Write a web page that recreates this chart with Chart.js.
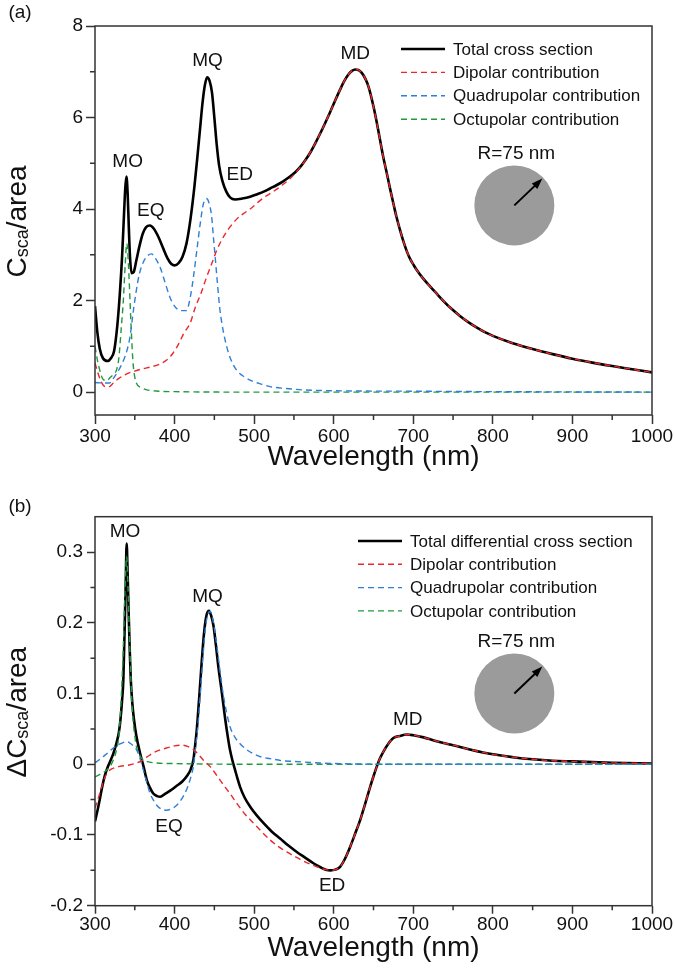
<!DOCTYPE html>
<html>
<head>
<meta charset="utf-8">
<script src="https://cdn.jsdelivr.net/npm/chart.js@4.4.1/dist/chart.umd.min.js"></script>
<style>
  body { margin: 0; background: #fff; }
  #wrap { position: relative; width: 675px; height: 969px; }
  .box { position: absolute; left: 0; width: 675px; }
</style>
</head>
<body>
<div id="wrap">
  <div class="box" style="top:0;height:480px"><canvas id="chartA"></canvas></div>
  <div class="box" style="top:480px;height:489px"><canvas id="chartB"></canvas></div>
</div>
<script>
// ---- shared axis ticks ----
var xTicks = [300, 400, 500, 600, 700, 800, 900, 1000];
var xMinor = [350, 450, 550, 650, 750, 850, 950];

// ---- (a) scattering cross section ----
var aTotalNm = [300, 303, 306, 310, 316, 320, 324, 328, 331, 334, 336.5, 338, 339.5, 341, 342.5, 344, 346, 348.5, 352, 356, 360, 364, 369, 374, 380, 386, 391, 396, 400, 405, 410, 415, 420, 425, 429, 432, 435, 438, 441, 444, 447, 450, 453, 456, 460, 465, 470, 476, 485, 495, 503, 512, 520, 528, 536, 545, 552, 558, 564, 570, 576, 583, 589, 595, 601, 608, 613, 618, 623, 627, 631, 635, 640, 644, 650, 654, 658, 662, 667, 671, 675, 679, 684, 688, 692, 696, 700, 705, 712, 721, 730, 738, 748, 759, 770, 780, 790, 800, 825, 850, 875, 900, 925, 950, 975, 1000];
var aTotal = [1.88, 1.3, 0.95, 0.74, 0.68, 0.74, 0.9, 1.45, 2.1, 2.95, 3.9, 4.45, 4.71, 4.35, 3.6, 2.95, 2.6, 2.62, 2.88, 3.2, 3.46, 3.6, 3.64, 3.57, 3.38, 3.13, 2.93, 2.8, 2.77, 2.82, 2.96, 3.25, 3.78, 4.5, 5.2, 5.75, 6.3, 6.7, 6.88, 6.8, 6.55, 6.0, 5.4, 4.95, 4.62, 4.38, 4.25, 4.21, 4.23, 4.27, 4.32, 4.38, 4.45, 4.52, 4.6, 4.71, 4.81, 4.92, 5.06, 5.22, 5.41, 5.65, 5.87, 6.1, 6.34, 6.61, 6.79, 6.93, 7.02, 7.05, 7.04, 6.98, 6.84, 6.66, 6.24, 5.9, 5.53, 5.16, 4.76, 4.43, 4.12, 3.82, 3.5, 3.27, 3.07, 2.91, 2.79, 2.65, 2.49, 2.31, 2.14, 1.99, 1.82, 1.66, 1.52, 1.41, 1.31, 1.23, 1.07, 0.94, 0.83, 0.73, 0.645, 0.57, 0.5, 0.43];

var aDipoleNm = [300, 304, 308, 313, 318, 323, 330, 340, 350, 360, 370, 380, 390, 398, 405, 412, 419.5, 426, 433, 440, 447, 453, 460, 469.7, 478, 486.5, 495, 503, 512, 524, 535, 545, 552, 558, 564, 570, 576, 583, 589, 595, 601, 608, 613, 618, 623, 627, 631, 635, 640, 644, 650, 654, 658, 662, 667, 671, 675, 679, 684, 688, 692, 696, 700, 705, 712, 721, 730, 738, 748, 759, 770, 780, 790, 800, 825, 850, 875, 900, 925, 950, 975, 1000];
var aDipole = [0.64, 0.4, 0.22, 0.12, 0.12, 0.2, 0.3, 0.4, 0.46, 0.51, 0.55, 0.6, 0.7, 0.85, 1.05, 1.3, 1.5, 1.85, 2.15, 2.5, 2.82, 3.1, 3.35, 3.61, 3.78, 3.9, 4.0, 4.12, 4.25, 4.38, 4.52, 4.66, 4.79, 4.92, 5.06, 5.22, 5.41, 5.65, 5.87, 6.1, 6.34, 6.61, 6.79, 6.93, 7.02, 7.05, 7.04, 6.98, 6.84, 6.66, 6.24, 5.9, 5.53, 5.16, 4.76, 4.43, 4.12, 3.82, 3.5, 3.27, 3.07, 2.91, 2.79, 2.65, 2.49, 2.31, 2.14, 1.99, 1.82, 1.66, 1.52, 1.41, 1.31, 1.23, 1.07, 0.94, 0.83, 0.73, 0.645, 0.57, 0.5, 0.43];

var aQuadNm = [300, 310, 318, 325, 332, 336, 340, 344, 348, 352, 356, 361, 366, 371, 376, 382, 388, 394, 400, 407, 415, 420, 424, 428, 432, 436, 440, 443, 446.5, 449, 451, 454, 457, 461, 465.6, 471, 478, 488, 499, 510, 520, 540, 560, 600, 700, 800, 1000];
var aQuad = [0.21, 0.2, 0.2, 0.35, 0.55, 0.7, 0.9, 1.21, 1.75, 2.23, 2.6, 2.85, 2.98, 3.02, 2.92, 2.72, 2.4, 2.08, 1.88, 1.78, 1.78, 2.1, 2.55, 3.1, 3.65, 4.1, 4.23, 4.15, 3.85, 3.35, 2.96, 2.35, 1.8, 1.35, 0.99, 0.7, 0.48, 0.33, 0.23, 0.17, 0.12, 0.08, 0.05, 0.03, 0.02, 0.01, 0.0];

var aOctNm = [300, 303, 306, 310, 315, 319, 324, 327, 330, 333, 335.6, 338, 340, 342, 344, 346, 348, 352, 358, 365, 380, 400, 500, 1000];
var aOct = [1.0, 0.7, 0.48, 0.28, 0.25, 0.32, 0.4, 0.48, 0.75, 1.4, 2.0, 2.8, 3.25, 2.8, 2.0, 1.2, 0.6, 0.2, 0.1, 0.05, 0.02, 0.01, 0.0, 0.0];

var aYTicks = [0, 2, 4, 6, 8];
var aYMinor = [1, 3, 5, 7];
var aNotes = ['MO', 'EQ', 'MQ', 'ED', 'MD'];
var aNotesNm = [341, 370, 441.5, 482, 627];
var aNotesVal = [5.04, 3.96, 7.23, 4.74, 7.4];
var aLabels = ['Total cross section', 'Dipolar contribution', 'Quadrupolar contribution', 'Octupolar contribution'];

// ---- (b) differential cross section ----
var bTotalNm = [300, 303, 306, 309, 312.6, 316, 319, 323, 327, 330, 332, 334, 335.6, 337, 338.5, 339.8, 341, 342.3, 343.7, 345, 347, 349, 352, 356.6, 361, 365, 369, 373, 378, 382, 388, 395, 402, 410, 416, 420, 423.6, 426, 428, 431, 434, 437, 440, 443.3, 446, 449, 452, 455, 459, 463.5, 467, 469.7, 473, 476, 479, 482.3, 488, 495, 503, 511.6, 522, 532.6, 543, 553.6, 564, 574.5, 584, 590, 596, 602, 608, 614, 620.6, 627, 633.2, 639.5, 645.8, 650, 654.2, 658, 662.5, 668, 675, 683, 692, 700, 713, 725, 738, 750, 771, 800, 825, 850, 875, 900, 950, 1000];
var bTotal = [-0.081, -0.066, -0.05, -0.032, -0.015, -0.004, 0.004, 0.015, 0.03, 0.045, 0.063, 0.09, 0.119, 0.18, 0.25, 0.312, 0.27, 0.214, 0.16, 0.119, 0.085, 0.063, 0.04, 0.016, -0.003, -0.022, -0.033, -0.041, -0.045, -0.046, -0.042, -0.037, -0.031, -0.024, -0.016, -0.008, 0.006, 0.028, 0.05, 0.095, 0.143, 0.185, 0.21, 0.217, 0.21, 0.195, 0.168, 0.138, 0.105, 0.065, 0.038, 0.02, 0.004, -0.008, -0.02, -0.032, -0.047, -0.06, -0.072, -0.083, -0.095, -0.105, -0.115, -0.124, -0.132, -0.14, -0.146, -0.149, -0.15, -0.149, -0.145, -0.134, -0.117, -0.098, -0.079, -0.056, -0.032, -0.017, -0.003, 0.008, 0.018, 0.028, 0.037, 0.04, 0.042, 0.041, 0.038, 0.034, 0.03, 0.027, 0.021, 0.014, 0.01, 0.007, 0.005, 0.004, 0.002, 0.001];

var bDipoleNm = [300, 303, 306, 309, 312.6, 316, 319, 325, 331, 343, 350, 357, 365, 373, 381, 390, 400, 409, 417, 423.6, 430, 436, 440, 444.5, 450, 455, 461.3, 470, 478, 488, 499, 510, 520, 530, 541, 552, 562, 574.5, 584, 590, 596, 602, 608, 614, 620.6, 627, 633.2, 639.5, 645.8, 650, 654.2, 658, 662.5, 668, 675, 683, 692, 700, 713, 725, 738, 750, 771, 800, 825, 850, 875, 900, 950, 1000];
var bDipole = [-0.062, -0.052, -0.041, -0.03, -0.018, -0.012, -0.008, -0.005, -0.003, -0.001, 0.001, 0.004, 0.01, 0.016, 0.02, 0.023, 0.026, 0.027, 0.025, 0.021, 0.014, 0.006, 0.002, -0.003, -0.011, -0.019, -0.029, -0.042, -0.055, -0.07, -0.083, -0.096, -0.107, -0.116, -0.124, -0.131, -0.137, -0.143, -0.147, -0.149, -0.15, -0.149, -0.145, -0.134, -0.117, -0.098, -0.079, -0.056, -0.032, -0.017, -0.003, 0.008, 0.018, 0.028, 0.037, 0.04, 0.042, 0.041, 0.038, 0.034, 0.03, 0.027, 0.021, 0.014, 0.01, 0.007, 0.005, 0.004, 0.002, 0.001];

var bQuadNm = [300, 305, 310.5, 317, 323, 330, 336, 340, 345, 349, 352.4, 356, 360.7, 365, 369, 373, 377.5, 383, 390, 396, 402.7, 409, 415, 420, 423.6, 427, 430, 433, 436, 439, 442.5, 445, 448, 451, 454, 457, 461, 465.6, 470, 476, 482.3, 490, 499, 510, 520, 535, 549, 600, 700, 1000];
var bQuad = [0.002, 0.006, 0.011, 0.017, 0.023, 0.028, 0.031, 0.032, 0.029, 0.025, 0.02, 0.01, -0.008, -0.025, -0.041, -0.05, -0.058, -0.063, -0.065, -0.063, -0.058, -0.049, -0.036, -0.02, -0.003, 0.03, 0.063, 0.11, 0.157, 0.195, 0.214, 0.216, 0.205, 0.185, 0.16, 0.133, 0.1, 0.072, 0.052, 0.038, 0.029, 0.021, 0.015, 0.01, 0.008, 0.005, 0.004, 0.001, 0.0, 0.0];

var bOctNm = [300, 305, 310, 315, 319, 323, 327, 330, 332, 334, 335.6, 337.5, 339.8, 341.5, 343, 344.5, 346, 348, 350, 352, 356, 360, 365, 375, 400, 500, 1000];
var bOct = [-0.018, -0.015, -0.012, -0.008, -0.003, 0.006, 0.02, 0.04, 0.072, 0.12, 0.166, 0.24, 0.294, 0.25, 0.19, 0.14, 0.096, 0.06, 0.04, 0.025, 0.013, 0.007, 0.004, 0.002, 0.001, 0.0, 0.0];

var bYTicks = [-0.2, -0.1, 0, 0.1, 0.2, 0.3];
var bYMinor = [-0.15, -0.05, 0.05, 0.15, 0.25];
var bNotes = ['MO', 'MQ', 'EQ', 'ED', 'MD'];
var bNotesNm = [337.7, 441.5, 393, 598, 693];
var bNotesVal = [0.329, 0.237, -0.088, -0.172, 0.063];
var bLabels = ['Total differential cross section', 'Dipolar contribution', 'Quadrupolar contribution', 'Octupolar contribution'];

var FONT = '"Liberation Sans", Arial, sans-serif';
Chart.defaults.font.family = FONT;
Chart.defaults.color = '#111';

function series(nm, vals) {
    return nm.map(function (x, i) { return { x: x, y: vals[i] }; });
}

// frame, minor ticks, labels, sphere, legend, y title
var decor = {
    id: 'decor',
    afterDatasetsDraw: function (chart, args, o) {
	var ctx = chart.ctx, a = chart.chartArea;
	var xs = chart.scales.x, ys = chart.scales.y;
	ctx.save();

	ctx.strokeStyle = '#333';
	ctx.lineWidth = 1.5;
	ctx.strokeRect(a.left, a.top, a.right - a.left, a.bottom - a.top);

	ctx.beginPath();
	xMinor.forEach(function (v) {
	    var px = xs.getPixelForValue(v);
	    ctx.moveTo(px, a.bottom);
	    ctx.lineTo(px, a.bottom + o.minorLen);
	});
	o.yMinor.forEach(function (v) {
	    var py = ys.getPixelForValue(v);
	    ctx.moveTo(a.left, py);
	    ctx.lineTo(a.left - o.minorLen, py);
	});
	ctx.stroke();

	ctx.fillStyle = '#111';
	ctx.textAlign = 'center';
	ctx.textBaseline = 'middle';
	ctx.font = '19px ' + FONT;
	o.notes.forEach(function (t, i) {
	    ctx.fillText(t, xs.getPixelForValue(o.notesNm[i]), ys.getPixelForValue(o.notesVal[i]));
	});

	// sphere sketch
	var cx = xs.getPixelForValue(827), cy = ys.getPixelForValue(o.sphereY);
	ctx.fillText('R=75 nm', cx + 2, cy - 52);
	ctx.fillStyle = '#9b9b9b';
	ctx.beginPath();
	ctx.arc(cx, cy, 40, 0, Math.PI * 2);
	ctx.fill();
	ctx.strokeStyle = '#000';
	ctx.lineWidth = 2;
	ctx.beginPath();
	ctx.moveTo(cx, cy);
	ctx.lineTo(cx + 22, cy - 21);
	ctx.stroke();
	ctx.fillStyle = '#000';
	ctx.beginPath();
	ctx.moveTo(cx + 28, cy - 27);
	ctx.lineTo(cx + 17.5, cy - 22);
	ctx.lineTo(cx + 23, cy - 16.5);
	ctx.closePath();
	ctx.fill();

	// legend
	ctx.textAlign = 'left';
	ctx.font = '17px ' + FONT;
	chart.data.datasets.forEach(function (ds, i) {
	    var lx = a.left + o.legX, ly = a.top + o.legY + i * o.legDy;
	    ctx.strokeStyle = ds.borderColor;
	    ctx.lineWidth = ds.borderWidth;
	    ctx.setLineDash(ds.borderDash || []);
	    ctx.beginPath();
	    ctx.moveTo(lx, ly);
	    ctx.lineTo(lx + 44, ly);
	    ctx.stroke();
	    ctx.setLineDash([]);
	    ctx.fillStyle = '#111';
	    ctx.fillText(ds.label, lx + 52, ly + 1);
	});

	// rotated y title with subscript
	ctx.save();
	ctx.translate(25.5, (a.top + a.bottom) / 2 + 1);
	ctx.rotate(-Math.PI / 2);
	ctx.textBaseline = 'alphabetic';
	var parts = o.yTitle, w = 0;
	parts.forEach(function (p) { ctx.font = p[1] + 'px ' + FONT; w += ctx.measureText(p[0]).width; });
	var x0 = -w / 2;
	parts.forEach(function (p) {
	    ctx.font = p[1] + 'px ' + FONT;
	    ctx.fillText(p[0], x0, p[2]);
	    x0 += ctx.measureText(p[0]).width;
	});
	ctx.restore();

	ctx.font = '19px ' + FONT;
	ctx.textAlign = 'center';
	ctx.fillText(o.panel, 20, o.panelY);

	ctx.restore();
    }
};

function makeChart(id, p) {
    var ctx = document.getElementById(id).getContext('2d');
    var dash = [6, 4];
    return new Chart(ctx, {
	type: 'line',
	data: {
	    datasets: [
		{ label: p.labels[0], data: series(p.total[0], p.total[1]), borderColor: '#000', borderWidth: 2.6, order: 4 },
		{ label: p.labels[1], data: series(p.dip[0], p.dip[1]), borderColor: '#e8292b', borderWidth: 1.4, borderDash: dash, order: 1 },
		{ label: p.labels[2], data: series(p.quad[0], p.quad[1]), borderColor: '#2f7fd6', borderWidth: 1.4, borderDash: dash, order: 2 },
		{ label: p.labels[3], data: series(p.oct[0], p.oct[1]), borderColor: '#219a3e', borderWidth: 1.4, borderDash: dash, order: 3 }
	    ]
	},
	options: {
	    responsive: true,
	    maintainAspectRatio: false,
	    animation: false,
	    layout: { padding: p.padding },
	    elements: {
		point: { radius: 0 },
		line: { cubicInterpolationMode: 'monotone', fill: false }
	    },
	    plugins: {
		legend: { display: false },
		tooltip: { enabled: false },
		decor: p.decor
	    },
	    scales: {
		x: {
		    type: 'linear', min: 300, max: 1000,
		    afterBuildTicks: function (s) { s.ticks = xTicks.map(function (v) { return { value: v }; }); },
		    afterFit: function (s) { s.height = p.xHeight; },
		    ticks: { font: { size: 19 }, color: '#111', padding: p.xPad, maxRotation: 0, autoSkip: false,
			     callback: function (v) { return String(v); } },
		    grid: { drawOnChartArea: false, tickLength: p.tick, tickColor: '#333', tickWidth: 1.5 },
		    border: { display: false },
		    title: { display: true, text: 'Wavelength (nm)', font: { size: 28 }, color: '#111',
			     padding: { top: 0, bottom: p.titlePad } }
		},
		y: {
		    type: 'linear', min: p.yMin, max: p.yMax,
		    afterBuildTicks: function (s) { s.ticks = p.yTicks.map(function (v) { return { value: v }; }); },
		    afterFit: function (s) { s.width = 95; },
		    ticks: { font: { size: 19 }, color: '#111', padding: p.yPad,
			     callback: function (v) { return String(v); } },
		    grid: { drawOnChartArea: false, tickLength: p.tick, tickColor: '#333', tickWidth: 1.5 },
		    border: { display: false }
		}
	    }
	},
	plugins: [decor]
    });
}

makeChart('chartA', {
    labels: aLabels,
    total: [aTotalNm, aTotal], dip: [aDipoleNm, aDipole], quad: [aQuadNm, aQuad], oct: [aOctNm, aOct],
    yMin: -0.5, yMax: 8, yTicks: aYTicks,
    padding: { top: 26, right: 23, left: 0, bottom: 0 },
    xHeight: 65, tick: 9, xPad: 1, yPad: 3, titlePad: 6,
    decor: { minorLen: 5, yMinor: aYMinor, notes: aNotes, notesNm: aNotesNm, notesVal: aNotesVal,
	     sphereY: 4.08, legX: 306, legY: 23, legDy: 23.4,
	     yTitle: [['C', 28, 0], ['sca', 18, 2], ['/area', 28, 0]], panel: '(a)', panelY: 13 }
});

makeChart('chartB', {
    labels: bLabels,
    total: [bTotalNm, bTotal], dip: [bDipoleNm, bDipole], quad: [bQuadNm, bQuad], oct: [bOctNm, bOct],
    yMin: -0.2, yMax: 0.35, yTicks: bYTicks,
    padding: { top: 36.7, right: 23, left: 0, bottom: 0 },
    xHeight: 63.3, tick: 8, xPad: 0, yPad: 4, titlePad: 4,
    decor: { minorLen: 4.5, yMinor: bYMinor, notes: bNotes, notesNm: bNotesNm, notesVal: bNotesVal,
	     sphereY: 0.1, legX: 263, legY: 24.3, legDy: 23.3,
	     yTitle: [['\u0394C', 28, 0], ['sca', 18, 2], ['/area', 28, 0]], panel: '(b)', panelY: 26.5 }
});
</script>
</body>
</html>
